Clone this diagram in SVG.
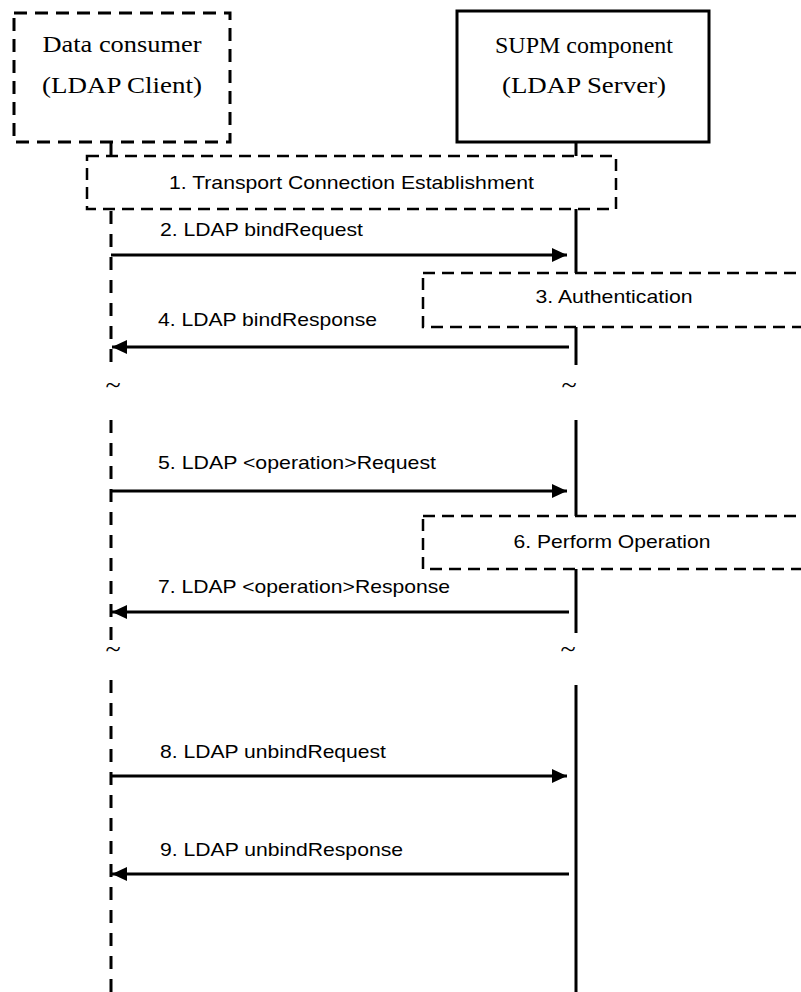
<svg xmlns="http://www.w3.org/2000/svg" width="801" height="992" viewBox="0 0 801 992">
<style>
.node-label{font-family:"Liberation Serif","Times New Roman",serif;font-size:23px;fill:#000;text-anchor:middle}
.msg{font-family:"Liberation Sans",Arial,sans-serif;font-size:19px;fill:#000}
.box-label{font-family:"Liberation Sans",Arial,sans-serif;font-size:19px;fill:#000;text-anchor:middle}
.tilde{font-family:"Liberation Serif","Times New Roman",serif;font-size:28px;fill:#000;text-anchor:middle}
.life-dash{stroke:#000;stroke-width:3;stroke-dasharray:13 10;fill:none}
.life-solid{stroke:#000;stroke-width:3;fill:none}
.msgline{stroke:#000;stroke-width:3;fill:none}
.stepbox{fill:#fff;stroke:#000;stroke-width:2.5;stroke-dasharray:12 7}
</style>
<defs>
<marker id="ah" markerUnits="userSpaceOnUse" markerWidth="16" markerHeight="14" refX="15" refY="7" orient="auto">
<path d="M0,0 L15,7 L0,14 z" fill="#000"/>
</marker>
</defs>
<rect width="801" height="992" fill="#fff"/>
<g id="lifelines">
<line class="life-dash" x1="111" y1="142" x2="111" y2="364"/>
<line class="life-dash" x1="111" y1="420" x2="111" y2="640"/>
<line class="life-dash" x1="111" y1="680" x2="111" y2="992"/>
<line class="life-solid" x1="576" y1="142" x2="576" y2="365"/>
<line class="life-solid" x1="576" y1="420" x2="576" y2="633"/>
<line class="life-solid" x1="576" y1="685" x2="576" y2="992"/>
<text class="tilde" x="113" y="394">~</text>
<text class="tilde" x="569" y="394">~</text>
<text class="tilde" x="113" y="658">~</text>
<text class="tilde" x="568" y="658">~</text>
</g>
<g id="client">
<rect x="14" y="13" width="216" height="129" fill="#fff" stroke="#000" stroke-width="3" stroke-dasharray="13 8"/>
<text class="node-label" x="122" y="52" textLength="159" lengthAdjust="spacingAndGlyphs">Data consumer</text>
<text class="node-label" x="122" y="93" textLength="160" lengthAdjust="spacingAndGlyphs">(LDAP Client)</text>
</g>
<g id="server">
<rect x="457" y="11" width="252" height="131" fill="#fff" stroke="#000" stroke-width="3"/>
<text class="node-label" x="584" y="53" textLength="178" lengthAdjust="spacingAndGlyphs">SUPM component</text>
<text class="node-label" x="584" y="93" textLength="164" lengthAdjust="spacingAndGlyphs">(LDAP Server)</text>
</g>
<g id="step1">
<rect class="stepbox" x="87" y="156" width="529" height="53"/>
<text class="box-label" x="351.5" y="189" textLength="365" lengthAdjust="spacingAndGlyphs">1. Transport Connection Establishment</text>
</g>
<g id="step3">
<rect class="stepbox" x="423" y="273" width="382" height="54" stroke-width="2"/>
<text class="box-label" x="614" y="303" textLength="157" lengthAdjust="spacingAndGlyphs">3. Authentication</text>
</g>
<g id="step6">
<rect class="stepbox" x="423" y="516" width="382" height="53" stroke-width="2"/>
<text class="box-label" x="612" y="548" textLength="197" lengthAdjust="spacingAndGlyphs">6. Perform Operation</text>
</g>
<g id="connectors">
<line class="msgline" x1="111" y1="255" x2="567" y2="255" marker-end="url(#ah)"/>
<text class="msg" x="160" y="236" textLength="203" lengthAdjust="spacingAndGlyphs">2. LDAP bindRequest</text>
<line class="msgline" x1="569" y1="347" x2="112" y2="347" marker-end="url(#ah)"/>
<text class="msg" x="158" y="326" textLength="219" lengthAdjust="spacingAndGlyphs">4. LDAP bindResponse</text>
<line class="msgline" x1="111" y1="491" x2="567" y2="491" marker-end="url(#ah)"/>
<text class="msg" x="158" y="469" textLength="278" lengthAdjust="spacingAndGlyphs">5. LDAP &lt;operation&gt;Request</text>
<line class="msgline" x1="569" y1="612" x2="112" y2="612" marker-end="url(#ah)"/>
<text class="msg" x="158" y="593" textLength="292" lengthAdjust="spacingAndGlyphs">7. LDAP &lt;operation&gt;Response</text>
<line class="msgline" x1="111" y1="776" x2="567" y2="776" marker-end="url(#ah)"/>
<text class="msg" x="160" y="758" textLength="226" lengthAdjust="spacingAndGlyphs">8. LDAP unbindRequest</text>
<line class="msgline" x1="569" y1="874" x2="112" y2="874" marker-end="url(#ah)"/>
<text class="msg" x="160" y="856" textLength="243" lengthAdjust="spacingAndGlyphs">9. LDAP unbindResponse</text>
</g>
</svg>
